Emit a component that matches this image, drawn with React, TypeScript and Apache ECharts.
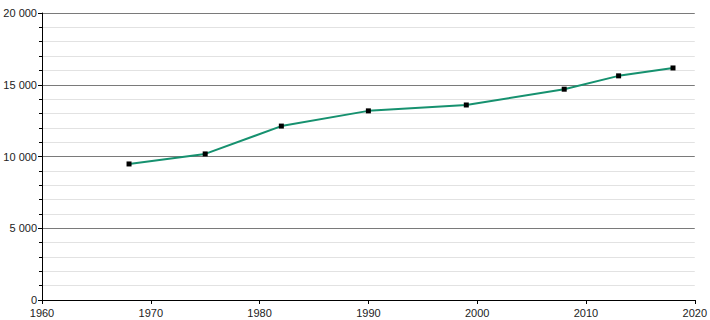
import React, { useEffect, useRef } from "react";
import * as echarts from "echarts";

const years = [1968, 1975, 1982, 1990, 1999, 2008, 2013, 2018];
const population = [9480, 10180, 12120, 13180, 13590, 14690, 15620, 16170];
const xTicks = { min: 1960, max: 2020, interval: 10 };
const yTicks = { min: 0, max: 20000, interval: 5000 };

const fmt = (v: number) => String(v).replace(/\B(?=(\d{3})+(?!\d))/g, " ");

export default function App() {
  const ref = useRef<HTMLDivElement>(null);
  useEffect(() => {
    document.body.style.margin = "0";
    const chart = echarts.init(ref.current!, null, { renderer: "svg" });
    const font = { fontFamily: "Liberation Sans, Arial, sans-serif", fontSize: 11, color: "#222" };
    chart.setOption({
      animation: false,
      backgroundColor: "#fff",
      grid: { left: 42, right: 12, top: 13, bottom: 20, containLabel: false },
      xAxis: {
        type: "value",
        min: xTicks.min,
        max: xTicks.max,
        interval: xTicks.interval,
        axisLine: { show: true, lineStyle: { color: "#000", width: 1 } },
        axisTick: { show: true, length: 4, lineStyle: { color: "#000" } },
        axisLabel: { ...font, margin: 7, formatter: (v: number) => String(v) },
        splitLine: { show: false },
      },
      yAxis: {
        type: "value",
        min: yTicks.min,
        max: yTicks.max,
        interval: yTicks.interval,
        axisLine: { show: true, lineStyle: { color: "#000", width: 1 } },
        axisTick: { show: true, length: 4, lineStyle: { color: "#000" } },
        minorTick: { show: true, splitNumber: 5, length: 3, lineStyle: { color: "#000" } },
        axisLabel: { ...font, margin: 5, formatter: (v: number) => fmt(v) },
        splitLine: { show: true, lineStyle: { color: "#7a7a7a", width: 1 } },
        minorSplitLine: { show: true, lineStyle: { color: "#e2e2e2", width: 1 } },
      },
      series: [
        {
          type: "line",
          data: years.map((y, i) => [y, population[i]]),
          symbol: "rect",
          symbolSize: 5,
          showSymbol: true,
          itemStyle: { color: "#000" },
          lineStyle: { color: "#16916f", width: 2 },
          z: 3,
        },
      ],
    });
    return () => chart.dispose();
  }, []);
  return <div ref={ref} style={{ width: 710, height: 320 }} />;
}
